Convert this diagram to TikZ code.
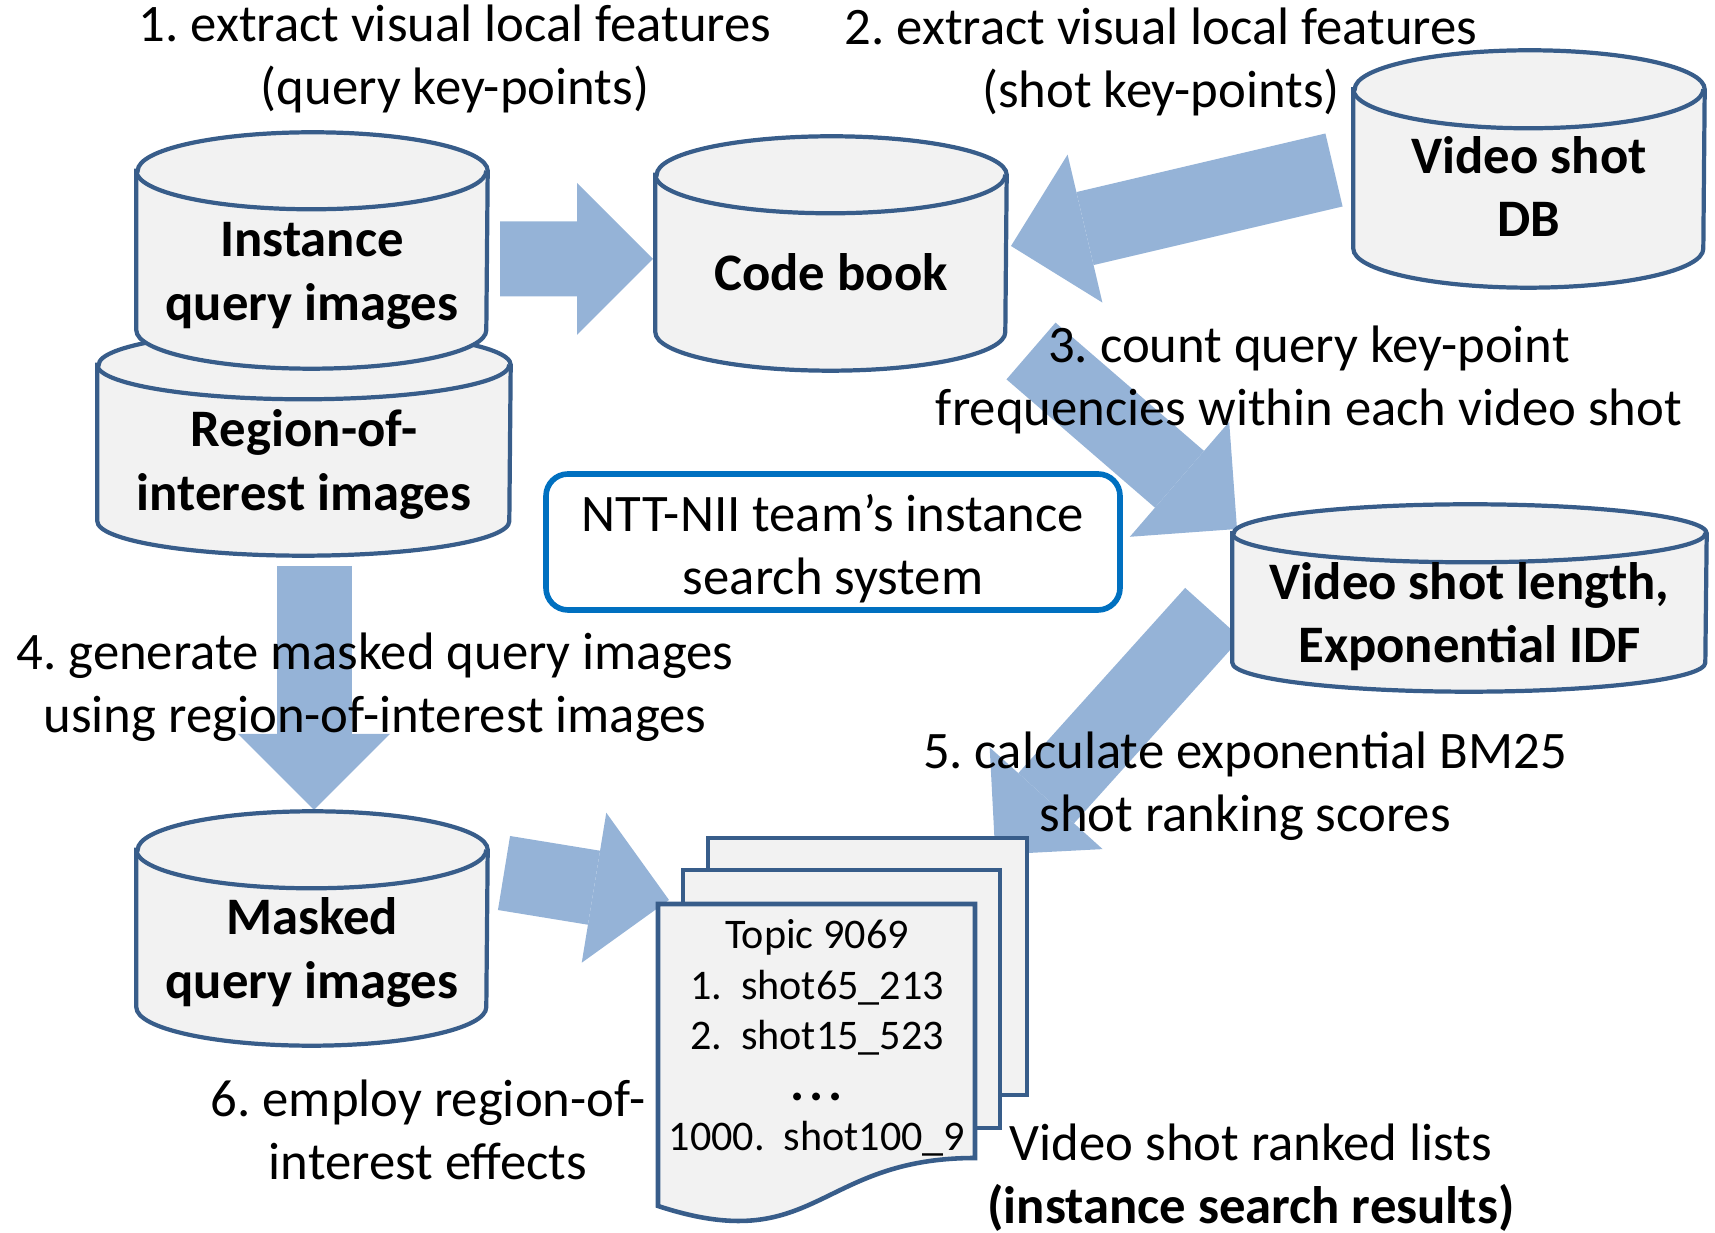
\documentclass[tikz,border=0pt]{standalone}
\usepackage{fontspec}
\setmainfont{Carlito}
\usepackage{xcolor}
\usetikzlibrary{arrows.meta, calc, backgrounds}

\definecolor{arrowblue}{HTML}{95B3D7}
\definecolor{dbline}{HTML}{385D8A}
\definecolor{dbfill}{HTML}{F2F2F2}
\definecolor{teamblue}{HTML}{0070C0}

\frenchspacing

% cylinder drawn inside the box of node #1, x radius #2, y radius #3
\newcommand{\dbcylinder}[3]{%
  \draw[dbedge] ($(#1.north west)+(0,-#3)$) -- ($(#1.south west)+(0,#3)$)
    arc[start angle=180, end angle=360, x radius=#2, y radius=#3]
    -- ($(#1.north east)+(0,-#3)$)
    arc[start angle=0, end angle=180, x radius=#2, y radius=#3] -- cycle;
  \draw[dbedge, fill=none] ($(#1.north west)+(0,-#3)$)
    arc[start angle=180, end angle=360, x radius=#2, y radius=#3];
}

\begin{document}
\begin{tikzpicture}[
  db/.style={rectangle, inner sep=0pt},
  dbedge/.style={draw=dbline, fill=dbfill, line width=1.2pt},
  dbtext/.style={font=\fontsize{15}{18}\selectfont\bfseries, align=center},
  page/.style={draw=dbline, fill=dbfill, line width=1.3pt},
  lbl/.style={font=\fontsize{15}{18}\selectfont, align=center},
  bigarrow/.style={draw=arrowblue, line width=0.75cm,
    -{Triangle[length=0.76cm, width=1.52cm, line width=0pt]}}]

  \useasboundingbox (0,0) rectangle (17.15,12.33);

  %% databases
  \node[db, minimum width=4.12cm, minimum height=2.24cm] (roi) at (3.04,7.90) {};
  \node[db, minimum width=3.5cm, minimum height=2.35cm] (iq) at (3.12,9.825) {};
  \node[db, minimum width=3.5cm, minimum height=2.33cm] (cb) at (8.31,9.795) {};
  \node[db, minimum width=3.5cm, minimum height=2.36cm] (vdb) at (15.29,10.64) {};
  \node[db, minimum width=4.73cm, minimum height=1.86cm] (vsl) at (14.695,6.35) {};
  \node[db, minimum width=3.5cm, minimum height=2.33cm] (mq) at (3.12,3.045) {};

  \dbcylinder{roi}{2.06}{0.345}
  \dbcylinder{iq}{1.75}{0.385}
  \dbcylinder{cb}{1.75}{0.385}
  \dbcylinder{vdb}{1.75}{0.39}
  \dbcylinder{vsl}{2.365}{0.29}
  \dbcylinder{mq}{1.75}{0.385}

  \node[dbtext] (roi-txt) at ($(roi.center)+(0,-0.215)$) {Region-of-\\interest images};
  \node[dbtext] (iq-txt) at ($(iq.center)+(0,-0.255)$) {Instance\\query images};
  \node[dbtext] (cb-txt) at ($(cb.center)+(0,-0.19)$) {Code book};
  \node[dbtext] (vdb-txt) at ($(vdb.center)+(0,-0.175)$) {Video shot\\DB};
  \node[dbtext] (vsl-txt) at ($(vsl.center)+(0,-0.185)$) {Video shot length,\\Exponential IDF};
  \node[dbtext] (mq-txt) at ($(mq.center)+(0,-0.24)$) {Masked\\query images};

  %% system name
  \node[draw=teamblue, line width=1.6pt, rounded corners=0.22cm,
    minimum width=5.74cm, minimum height=1.36cm] (team) at (8.33,6.91) {};
  \node[lbl] (team-txt) at (8.33,6.845) {NTT-NII team's instance\\search system};

  %% ranked lists (three pages)
  \node[page, minimum width=3.19cm, minimum height=2.57cm] (page3) at (8.675,2.665) {};
  \node[page, minimum width=3.17cm, minimum height=2.58cm] (page2) at (8.415,2.34) {};
  \draw[page] (6.58,3.29) coordinate (page1) -- (9.75,3.29) -- (9.75,0.75)
    .. controls (8.165,0.75) and (8.165,-0.25) .. (6.58,0.27) -- cycle;
  \node[font=\fontsize{12}{14.4}\selectfont, align=center] (list) at (8.17,1.95)
    {Topic 9069\\1.\ \ shot65\_213\\2.\ \ shot15\_523\\
     {\fontsize{15}{14.4}\selectfont\bfseries .\hspace{1.4pt}.\hspace{1.4pt}.}\\
     1000.\ \ shot100\_9};

  %% step labels
  \node[lbl] (s1) at (4.55,11.74) {1. extract visual local features\\(query key-points)};
  \node[lbl] (s2) at (11.61,11.71) {2. extract visual local features\\(shot key-points)};
  \node[lbl] (s3) at (13.09,8.53) {3. count query key-point\\frequencies within each video shot};
  \node[lbl] (s4) at (3.75,5.46) {4. generate masked query images\\using region-of-interest images};
  \node[lbl] (s5) at (12.45,4.47) {5. calculate exponential BM25\\shot ranking scores};
  \node[lbl] (s6) at (4.28,1.03) {6. employ region-of-\\interest effects};
  \node[lbl] (out) at (12.51,0.55) {Video shot ranked lists\\\textbf{(instance search results)}};

  %% flow arrows
  \begin{scope}[on background layer]
    \draw[bigarrow] ($(iq.center)+(1.88,-0.085)$) -- ($(cb.center)+(-1.78,-0.055)$);
    \draw[bigarrow] ($(vdb.center)+(-1.95,-0.01)$) -- ($(cb.center)+(1.80,0.075)$);
    \draw[bigarrow] ($(cb.center)+(2.00,-0.975)$) -- ($(vsl.center)+(-2.325,0.69)$);
    \draw[bigarrow] ($(roi.center)+(0.10,-1.23)$) -- ($(mq.center)+(0.02,1.185)$);
    \draw[bigarrow] ($(vsl.center)+(-2.565,-0.15)$) -- ($(page3.north east)+(-0.34,-0.19)$);
    \draw[bigarrow] ($(mq.center)+(1.92,0.555)$) -- ($(page1)+(0.11,0.04)$);
  \end{scope}
\end{tikzpicture}
\end{document}
